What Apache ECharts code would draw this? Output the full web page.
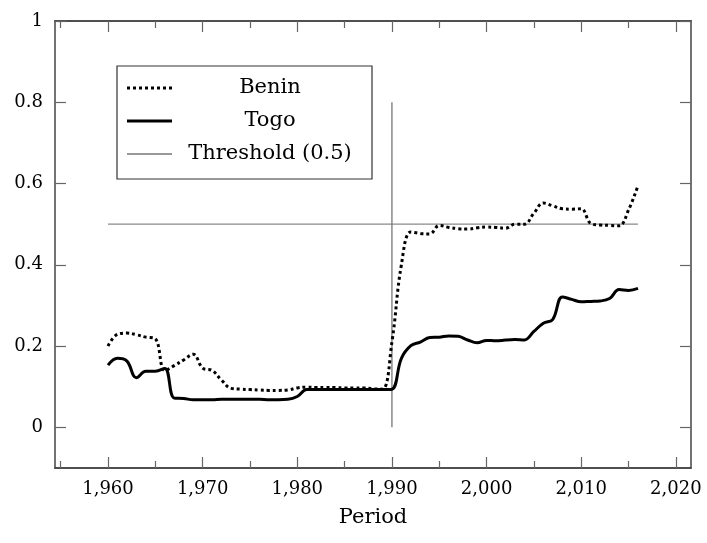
<!DOCTYPE html>
<html lang="en">
<head>
    <meta charset="UTF-8">
    <title>Benin / Togo</title>
    <script src="https://cdn.jsdelivr.net/npm/echarts@6/dist/echarts.min.js"></script>
</head>
<body style="margin:0">
<div id="main" style="width:707px;height:543px;"></div>
<script type="text/javascript">
    var years = [1960, 1961, 1962, 1963, 1964, 1965, 1966, 1967, 1968, 1969,
        1970, 1971, 1972, 1973, 1974, 1975, 1976, 1977, 1978, 1979,
        1980, 1981, 1982, 1983, 1984, 1985, 1986, 1987, 1988, 1989,
        1990, 1991, 1992, 1993, 1994, 1995, 1996, 1997, 1998, 1999,
        2000, 2001, 2002, 2003, 2004, 2005, 2006, 2007, 2008, 2009,
        2010, 2011, 2012, 2013, 2014, 2015, 2016];
    var benin = [0.200, 0.229, 0.232, 0.228, 0.222, 0.218, 0.140, 0.152, 0.166, 0.180,
        0.146, 0.140, 0.116, 0.096, 0.094, 0.093, 0.092, 0.091, 0.091, 0.092,
        0.097, 0.099, 0.098, 0.098, 0.098, 0.097, 0.097, 0.097, 0.095, 0.094,
        0.210, 0.400, 0.481, 0.477, 0.476, 0.497, 0.492, 0.489, 0.488, 0.491,
        0.493, 0.492, 0.490, 0.500, 0.500, 0.527, 0.552, 0.545, 0.538, 0.537,
        0.538, 0.502, 0.498, 0.497, 0.496, 0.535, 0.595];
    var togo = [0.153, 0.170, 0.163, 0.122, 0.138, 0.138, 0.145, 0.072, 0.071, 0.068,
        0.068, 0.068, 0.069, 0.069, 0.069, 0.069, 0.069, 0.068, 0.068, 0.069,
        0.076, 0.093, 0.093, 0.093, 0.093, 0.093, 0.093, 0.093, 0.093, 0.093,
        0.094, 0.170, 0.201, 0.210, 0.221, 0.222, 0.225, 0.224, 0.215, 0.208,
        0.214, 0.213, 0.215, 0.216, 0.215, 0.236, 0.256, 0.266, 0.321, 0.315,
        0.309, 0.310, 0.311, 0.317, 0.339, 0.337, 0.342];
    var thresholdH = [[1960, 0.5], [2016, 0.5]];
    var thresholdV = [[1990, 0], [1990, 0.8]];
    var xMajor = [1960, 1970, 1980, 1990, 2000, 2010, 2020];
    var xMinor = [1955, 1965, 1975, 1985, 1995, 2005, 2015];
    var yTicks = [0, 0.2, 0.4, 0.6, 0.8, 1];

    var FONT = 'DejaVu Serif';
    var AX = '#444';

    function pairs(xs, ys) {
        var out = [];
        for (var i = 0; i < xs.length; ++i) out.push([xs[i], ys[i]]);
        return out;
    }
    function comma(v) {
        return String(v).replace(/\B(?=(\d{3})+$)/, ',');
    }
    function xAx(pos, ticks, len, labels) {
        return {
            type: 'value', position: pos, min: 1954.4, max: 2021.6,
            splitLine: {show: false},
            axisLine: {show: true, onZero: false, lineStyle: {color: AX, width: 1.5}},
            axisTick: {show: true, inside: true, length: len, customValues: ticks,
                lineStyle: {color: '#666', width: 1.2}},
            axisLabel: labels ? {show: true, customValues: ticks, formatter: comma,
                fontFamily: FONT, fontSize: 18, color: '#000', margin: 12} : {show: false}
        };
    }
    var xMain = xAx('bottom', xMajor, 11, true);
    xMain.name = 'Period';
    xMain.nameLocation = 'middle';
    xMain.nameGap = 39;
    xMain.nameTextStyle = {fontFamily: FONT, fontSize: 21, color: '#000'};

    var myChart = echarts.init(document.getElementById('main'));
    var option = {
        animation: false,
        backgroundColor: '#fff',
        grid: {left: 55, right: 16, top: 21, bottom: 75},
        xAxis: [xMain, xAx('bottom', xMinor, 7, false), xAx('top', xMajor, 11, false), xAx('top', xMinor, 7, false)],
        yAxis: [
            {
                type: 'value', position: 'left', min: -0.1, max: 1,
                splitLine: {show: false},
                axisLine: {show: true, onZero: false, lineStyle: {color: AX, width: 1.5}},
                axisTick: {show: true, inside: true, length: 11, customValues: yTicks,
                    lineStyle: {color: '#666', width: 1.2}},
                axisLabel: {show: true, customValues: yTicks, fontFamily: FONT, fontSize: 18,
                    color: '#000', margin: 12}
            },
            {
                type: 'value', position: 'right', min: -0.1, max: 1,
                splitLine: {show: false},
                axisLine: {show: true, onZero: false, lineStyle: {color: AX, width: 1.5}},
                axisTick: {show: true, inside: true, length: 11, customValues: yTicks,
                    lineStyle: {color: '#666', width: 1.2}},
                axisLabel: {show: false}
            }
        ],
        series: [
            {
                name: 'Threshold (0.5)', type: 'line', data: thresholdH, showSymbol: false,
                lineStyle: {color: '#8a8a8a', width: 1.3}
            },
            {
                name: 'Threshold (0.5)', type: 'line', data: thresholdV, showSymbol: false,
                lineStyle: {color: '#777', width: 1.3}
            },
            {
                name: 'Benin', type: 'line', data: pairs(years, benin), showSymbol: false,
                smooth: 0.4,
                lineStyle: {color: '#000', width: 3, type: [3, 3], cap: 'butt'}
            },
            {
                name: 'Togo', type: 'line', data: pairs(years, togo), showSymbol: false,
                smooth: 0.4,
                lineStyle: {color: '#000', width: 3}
            }
        ],
        graphic: [
            {type: 'rect', shape: {x: 117, y: 66, width: 255, height: 113},
                style: {fill: '#fff', stroke: '#333', lineWidth: 1.2}, z: 100},
            {type: 'line', shape: {x1: 127, y1: 88, x2: 172, y2: 88},
                style: {stroke: '#000', lineWidth: 3, lineDash: [3, 3]}, z: 101},
            {type: 'line', shape: {x1: 127, y1: 121, x2: 172, y2: 121},
                style: {stroke: '#000', lineWidth: 3}, z: 101},
            {type: 'line', shape: {x1: 127, y1: 154, x2: 172, y2: 154},
                style: {stroke: '#777', lineWidth: 1.3}, z: 101},
            {type: 'text', x: 270, y: 88, z: 101, style: {text: 'Benin', font: '21px "DejaVu Serif"',
                fill: '#000', align: 'center', verticalAlign: 'middle'}},
            {type: 'text', x: 270, y: 121, z: 101, style: {text: 'Togo', font: '21px "DejaVu Serif"',
                fill: '#000', align: 'center', verticalAlign: 'middle'}},
            {type: 'text', x: 270, y: 154, z: 101, style: {text: 'Threshold (0.5)', font: '21px "DejaVu Serif"',
                fill: '#000', align: 'center', verticalAlign: 'middle'}}
        ]
    };
    myChart.setOption(option);
</script>
</body>
</html>
